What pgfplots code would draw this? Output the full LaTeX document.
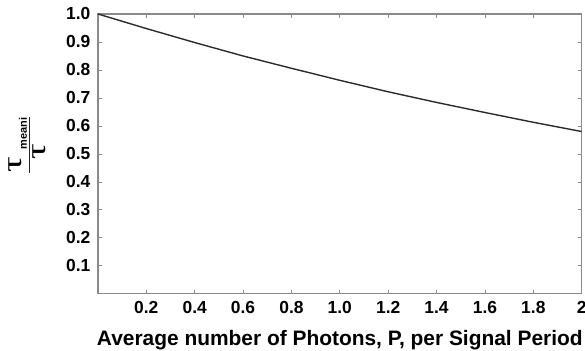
\documentclass[border=0pt]{standalone}
\usepackage{pgfplots}
\pgfplotsset{compat=1.18}
\usepackage{fontspec}
\setmainfont{Liberation Sans}
\newfontfamily\taufont[FakeStretch=1.4]{Liberation Serif}
\definecolor{axisgray}{HTML}{8A8A8A}
\definecolor{curve}{HTML}{2B2B2B}
\begin{document}
\begin{tikzpicture}
\begin{axis}[
  name=ax,
  scale only axis,
  width=484bp, height=280bp,
  xmin=0, xmax=2, ymin=0, ymax=1,
  axis line style={axisgray, line width=1.2bp},
  tick style={axisgray, line width=0.8bp},
  major tick length=4bp,
  tick align=inside,
  xtick={0.2,0.4,0.6,0.8,1.0,1.2,1.4,1.6,1.8,2.0},
  xticklabels={0.2,0.4,0.6,0.8,1.0,1.2,1.4,1.6,1.8,2},
  ytick={0.1,0.2,0.3,0.4,0.5,0.6,0.7,0.8,0.9,1.0},
  yticklabels={0.1,0.2,0.3,0.4,0.5,0.6,0.7,0.8,0.9,1.0},
  ticklabel style={font=\fontsize{17.5}{20}\selectfont\bfseries, text=black},
  xticklabel style={yshift=-4bp},
  yticklabel style={xshift=-4bp},
  xlabel={Average number of Photons, P, per Signal Period},
  xlabel style={font=\fontsize{21}{24}\selectfont\bfseries,
    at={(axis description cs:0.5,0)}, anchor=base, yshift=-52bp},
]
% mean lifetime ratio against photon number
\addplot[curve, line width=1.4bp] coordinates {
  (0.0,1.000) (0.2,0.948) (0.4,0.898) (0.6,0.850) (0.8,0.806)
  (1.0,0.763) (1.2,0.722) (1.4,0.684) (1.6,0.648) (1.8,0.613)
  (2.0,0.580)
};
\end{axis}
% y axis label: the ratio tau_meani / tau, written along the axis
\begin{scope}[shift={([xshift=-69bp, yshift=149bp]ax.south west)}, rotate=90,
    every node/.style={transform shape, inner sep=0pt}]
  \draw[black!85, line width=0.9bp] (-28bp,0) -- (28bp,0);
  \node[anchor=base west] at (-28bp,7bp)
    {{\fontsize{28}{30}\taufont τ}\hspace{8bp}\raisebox{-5bp}{\normalfont\fontsize{11}{13}\selectfont\bfseries meani}};
  \node[anchor=north] at (-7bp,-4bp)
    {\fontsize{28}{30}\taufont τ};
\end{scope}
\pgfresetboundingbox
\path ([xshift=-98bp,yshift=14bp]ax.north west) rectangle ([xshift=3.3bp,yshift=-57bp]ax.south east);
\end{tikzpicture}
\end{document}
